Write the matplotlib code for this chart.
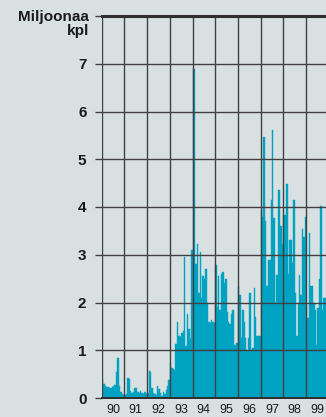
import matplotlib
matplotlib.use("Agg")
import matplotlib.pyplot as plt
import numpy as np

# Monthly-ish sales, millions of units, 16 readings per year
v1990 = [0.39, 0.30, 0.26, 0.23, 0.22, 0.20, 0.20, 0.22, 0.25, 0.27, 0.55, 0.83, 0.25, 0.12, 0.08, 0.06]
v1991 = [0.06, 0.08, 0.41, 0.40, 0.15, 0.10, 0.12, 0.20, 0.20, 0.12, 0.10, 0.15, 0.10, 0.08, 0.12, 0.08]
v1992 = [0.10, 0.57, 0.55, 0.20, 0.10, 0.08, 0.07, 0.25, 0.18, 0.10, 0.05, 0.12, 0.08, 0.16, 0.25, 0.38]
v1993 = [0.73, 0.62, 0.60, 0.59, 1.13, 1.60, 1.30, 1.28, 1.36, 1.40, 2.96, 1.08, 1.76, 1.45, 1.23, 3.10]
v1994 = [6.88, 6.88, 2.81, 3.23, 2.20, 3.05, 2.09, 2.56, 2.50, 2.70, 1.99, 1.60, 1.57, 1.64, 1.60, 1.58]
v1995 = [2.79, 1.90, 2.55, 1.85, 2.60, 2.63, 2.40, 2.50, 1.80, 1.60, 1.55, 1.75, 1.85, 1.10, 1.12, 1.15]
v1996 = [2.34, 2.16, 1.25, 1.85, 1.60, 1.25, 1.00, 1.25, 2.20, 1.00, 1.05, 2.30, 1.70, 1.29, 1.29, 1.30]
v1997 = [3.93, 3.79, 5.47, 3.70, 2.35, 2.88, 2.88, 4.15, 5.62, 3.77, 2.00, 2.58, 4.35, 4.35, 3.60, 3.23]
v1998 = [3.84, 3.84, 4.49, 2.60, 3.30, 3.30, 2.83, 4.15, 2.20, 1.30, 2.00, 2.58, 2.15, 3.53, 3.38, 3.79]
v1999 = [1.95, 1.67, 3.45, 2.34, 2.34, 2.00, 1.85, 1.11, 1.88, 2.49, 4.03, 1.85, 2.09, 2.10]

years = [1990, 1991, 1992, 1993, 1994, 1995, 1996, 1997, 1998, 1999]
year_labels = ["90", "91", "92", "93", "94", "95", "96", "97", "98", "99"]
series = [v1990, v1991, v1992, v1993, v1994, v1995, v1996, v1997, v1998, v1999]
per_year = 16

bg = "#d9e0e2"
bar_col = "#00a2c2"
grid_col = "#404040"
txt_col = "#1a1a1a"

plt.rcParams["font.family"] = ["Liberation Sans", "DejaVu Sans"]

fig = plt.figure(figsize=(3.26, 4.17), dpi=100, facecolor=bg)
ax = fig.add_axes([101.7 / 326, 19 / 417, 1 - 101.7 / 326, 382 / 417])
ax.set_facecolor(bg)

xs, hs = [], []
for yr, vals in zip(years, series):
    for i, v in enumerate(vals):
        xs.append(yr + (i + 0.5) / per_year)
        hs.append(v)
ax.bar(xs, hs, width=1 / per_year, color=bar_col, edgecolor=bar_col,
       linewidth=0.3, zorder=1)

ax.set_xlim(1990, 1999.88)
ax.set_ylim(0, 8)

# grid drawn over the bars
for yr in years:
    ax.axvline(yr, color=grid_col, lw=1.0, zorder=3)
for y in range(1, 8):
    ax.axhline(y, color=grid_col, lw=1.0, zorder=3)
ax.axhline(8, color="#2e2e2e", lw=2.2, zorder=3, clip_on=False)
ax.axhline(0, color="#2e2e2e", lw=1.4, zorder=3, clip_on=False)

for s in ax.spines.values():
    s.set_visible(False)

ax.set_yticks(range(0, 9))
ax.set_yticklabels([str(i) for i in range(8)] + [""], fontweight="bold")
ax.tick_params(axis="y", length=5, width=1.0, color=grid_col, pad=6,
               labelsize=11, labelcolor=txt_col)
ax.set_xticks([y + 0.5 for y in years])
ax.set_xticklabels(year_labels)
ax.tick_params(axis="x", length=0, pad=4, labelsize=9, labelcolor=txt_col)

ax.annotate("Miljoonaa", xy=(0, 8), xycoords=("axes fraction", "data"),
            xytext=(-9.2, -3.8), textcoords="offset points",
            ha="right", va="baseline", fontsize=11, fontweight="bold",
            color=txt_col)
ax.annotate("kpl", xy=(0, 8), xycoords=("axes fraction", "data"),
            xytext=(-9.2, -13.5), textcoords="offset points",
            ha="right", va="baseline", fontsize=11, fontweight="bold",
            color=txt_col)

fig.savefig("out.png", dpi=100, facecolor=bg)
